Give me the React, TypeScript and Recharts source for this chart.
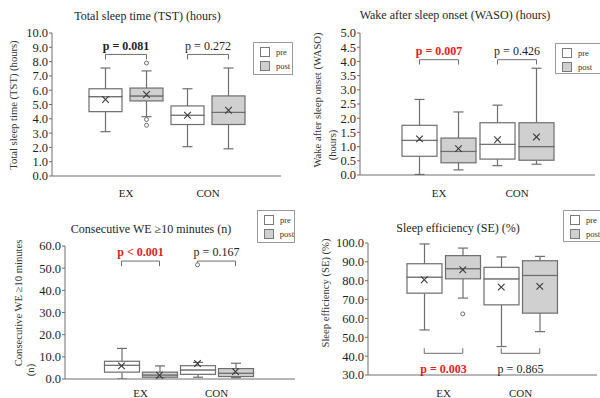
import React from "react";
import {
  Bar,
  ComposedChart,
  ReferenceDot,
  ReferenceLine,
  Scatter,
  XAxis,
  YAxis,
} from "recharts";

const SERIF = '"Liberation Serif", "Times New Roman", serif';
const STROKE = "#6e6e6e";
const POST_FILL = "#d0d0d0";
const RED = "#e3211c";
const INK = "#1e1e1e";

const GROUPS = ["EX", "CON"];
const PHASES = ["pre", "post"];
const LEGEND_ITEMS = ["pre", "post"];

// box order: EX pre, EX post, CON pre, CON post
const TST_MIN = [3.1, 4.15, 2.05, 1.9];
const TST_Q1 = [4.5, 5.25, 3.6, 3.6];
const TST_MEDIAN = [5.55, 5.6, 4.25, 4.45];
const TST_Q3 = [6.1, 6.15, 4.9, 5.6];
const TST_MAX = [7.55, 7.35, 6.1, 7.55];
const TST_MEAN = [5.35, 5.7, 4.25, 4.6];
const TST_OUTLIERS = [[], [7.9, 3.95, 3.55], [], []];
const TST_TICKS = [0, 1, 2, 3, 4, 5, 6, 7, 8, 9, 10];
const TST_BRACKET = [8.5, 8.15];
const TST_P_Y = 9.1;
const TST_P = ["p = 0.081", "p = 0.272"];
const TST_P_COLOR = [INK, INK];
const TST_P_BOLD = [true, false];

const WASO_MIN = [0.02, 0.18, 0.33, 0.38];
const WASO_Q1 = [0.66, 0.43, 0.56, 0.52];
const WASO_MEDIAN = [1.22, 0.83, 1.08, 1.0];
const WASO_Q3 = [1.75, 1.3, 1.84, 1.84];
const WASO_MAX = [2.66, 2.22, 2.46, 3.76];
const WASO_MEAN = [1.27, 0.93, 1.24, 1.34];
const WASO_OUTLIERS = [[], [], [], []];
const WASO_TICKS = [0, 0.5, 1, 1.5, 2, 2.5, 3, 3.5, 4, 4.5, 5];
const WASO_BRACKET = [4.06, 3.89];
const WASO_P_Y = 4.39;
const WASO_P = ["p = 0.007", "p = 0.426"];
const WASO_P_COLOR = [RED, INK];
const WASO_P_BOLD = [true, false];

const WE_MIN = [0, 0.6, 0.8, 0.6];
const WE_Q1 = [3.1, 0.8, 2.1, 1.1];
const WE_MEDIAN = [6.2, 1.8, 4.1, 2.6];
const WE_Q3 = [8.0, 3.1, 6.0, 4.7];
const WE_MAX = [13.8, 5.9, 7.5, 7.1];
const WE_MEAN = [5.9, 1.7, 7.0, 3.3];
const WE_OUTLIERS = [[], [], [51.5], []];
const WE_TICKS = [0, 10, 20, 30, 40, 50, 60];
const WE_BRACKET = [53.2, 50.9];
const WE_P_Y = 57.2;
const WE_P = ["p < 0.001", "p = 0.167"];
const WE_P_COLOR = [RED, INK];
const WE_P_BOLD = [true, false];

const SE_MIN = [53.9, 70.8, 45.1, 53.0];
const SE_Q1 = [73.4, 81.0, 67.2, 62.8];
const SE_MEDIAN = [81.9, 86.4, 81.0, 82.8];
const SE_Q3 = [89.0, 93.3, 87.1, 90.6];
const SE_MAX = [99.5, 97.3, 92.6, 92.9];
const SE_MEAN = [80.5, 85.8, 76.6, 77.0];
const SE_OUTLIERS = [[], [62.4], [], []];
const SE_TICKS = [30, 40, 50, 60, 70, 80, 90, 100];
const SE_BRACKET = [41.5, 44.2];
const SE_P_Y = 33.5;
const SE_P = ["p = 0.003", "p = 0.865"];
const SE_P_COLOR = [RED, INK];
const SE_P_BOLD = [true, false];

const BOX_KEYS = GROUPS.flatMap((g) => PHASES.map((p) => `${g} ${p}`));

function buildRows(min, q1, med, q3, max, mean, outliers) {
  return BOX_KEYS.map((k, i) => ({
    k,
    g: GROUPS[Math.floor(i / 2)],
    phase: PHASES[i % 2],
    base: min[i],
    lw: q1[i] - min[i],
    lb: med[i] - q1[i],
    ub: q3[i] - med[i],
    uw: max[i] - q3[i],
    mean: mean[i],
    o0: outliers[i][0],
    o1: outliers[i][1],
    o2: outliers[i][2],
  }));
}

const norm = (y: number, h: number) => [Math.min(y, y + h), Math.abs(h)];

const EmptyShape = () => <g />;

function BoxShape(props: any) {
  const { x, width, payload } = props;
  const [top, h] = norm(props.y, props.height);
  return (
    <rect
      x={x}
      y={top}
      width={width}
      height={h}
      fill={payload.phase === "post" ? POST_FILL : "#fff"}
      stroke={STROKE}
      strokeWidth={1.2}
    />
  );
}

function LowWhisker(props: any) {
  const [top, h] = norm(props.y, props.height);
  const cx = props.x + props.width / 2;
  return (
    <g stroke={STROKE} strokeWidth={1.2}>
      <line x1={cx} x2={cx} y1={top} y2={top + h} />
      <line x1={cx - 5} x2={cx + 5} y1={top + h} y2={top + h} />
    </g>
  );
}

function HighWhisker(props: any) {
  const [top, h] = norm(props.y, props.height);
  const cx = props.x + props.width / 2;
  return (
    <g stroke={STROKE} strokeWidth={1.2}>
      <line x1={cx} x2={cx} y1={top} y2={top + h} />
      <line x1={cx - 5} x2={cx + 5} y1={top} y2={top} />
    </g>
  );
}

function MeanMark(props: any) {
  const { cx, cy } = props;
  if (cx == null || cy == null || isNaN(cy)) return <g />;
  const s = 3.3;
  return (
    <g stroke="#3a3a3a" strokeWidth={1.1}>
      <line x1={cx - s} y1={cy - s} x2={cx + s} y2={cy + s} />
      <line x1={cx - s} y1={cy + s} x2={cx + s} y2={cy - s} />
    </g>
  );
}

function OutlierMark(props: any) {
  const { cx, cy } = props;
  if (cx == null || cy == null || isNaN(cy)) return <g />;
  return <circle cx={cx} cy={cy} r={2} fill="#fff" stroke={STROKE} strokeWidth={1} />;
}

function LegendBox({ left, top, width, height }) {
  return (
    <div
      style={{
        position: "absolute",
        left,
        top,
        width,
        height,
        boxSizing: "border-box",
        border: "1px solid #9a9a9a",
        background: "#fff",
        paddingTop: 4,
        paddingLeft: 6,
      }}
    >
      {LEGEND_ITEMS.map((item, i) => (
        <div
          key={item}
          style={{ display: "flex", alignItems: "center", height: 10, marginBottom: 4 }}
        >
          <div
            style={{
              width: 10,
              height: 10,
              boxSizing: "border-box",
              border: "1px solid #7a7a7a",
              background: i === 0 ? "#fff" : POST_FILL,
            }}
          />
          <span style={{ marginLeft: 6, fontSize: 8.5, color: "#333", fontFamily: SERIF }}>
            {item}
          </span>
        </div>
      ))}
    </div>
  );
}

function BoxPanel(p: any) {
  const rows = buildRows(p.min, p.q1, p.med, p.q3, p.max, p.mean, p.outliers);
  const yLabel = () => (
    <g>
      {p.yLines.map((l) => (
        <text
          key={l.text}
          transform={`translate(${l.x},${l.y}) rotate(-90)`}
          textAnchor="middle"
          dominantBaseline="central"
          fontSize={10.6}
          fontFamily={SERIF}
          fill="#333"
        >
          {l.text}
        </text>
      ))}
    </g>
  );
  return (
    <div style={{ position: "absolute", left: p.left, top: p.top, width: p.width, height: p.height }}>
      <ComposedChart width={p.width} height={p.height} margin={p.margin} data={rows}>
        <XAxis dataKey="k" hide height={0} padding={p.pad} allowDuplicatedCategory={false} />
        <XAxis
          xAxisId="g"
          dataKey="g"
          allowDuplicatedCategory={false}
          padding={p.pad}
          height={p.xHeight}
          tickLine={false}
          tickMargin={p.tickMargin}
          axisLine={{ stroke: STROKE }}
          tick={{ fontSize: 11, fill: INK, fontFamily: SERIF }}
          interval={0}
        />
        <YAxis
          type="number"
          width={p.yWidth}
          domain={p.domain}
          allowDataOverflow
          ticks={p.ticks}
          interval={0}
          tickSize={3}
          tickMargin={1}
          tickFormatter={(v: number) => v.toFixed(1)}
          axisLine={{ stroke: STROKE }}
          tickLine={{ stroke: STROKE }}
          tick={{ fontSize: 12.5, fill: INK, fontFamily: SERIF }}
          label={{ content: yLabel }}
        />
        <Bar dataKey="base" stackId="box" barSize={p.barSize} shape={EmptyShape} isAnimationActive={false} />
        <Bar dataKey="lw" stackId="box" barSize={p.barSize} shape={LowWhisker} isAnimationActive={false} />
        <Bar dataKey="lb" stackId="box" barSize={p.barSize} shape={BoxShape} isAnimationActive={false} />
        <Bar dataKey="ub" stackId="box" barSize={p.barSize} shape={BoxShape} isAnimationActive={false} />
        <Bar dataKey="uw" stackId="box" barSize={p.barSize} shape={HighWhisker} isAnimationActive={false} />
        <Scatter dataKey="mean" shape={MeanMark} isAnimationActive={false} />
        <Scatter dataKey="o0" shape={OutlierMark} isAnimationActive={false} />
        <Scatter dataKey="o1" shape={OutlierMark} isAnimationActive={false} />
        <Scatter dataKey="o2" shape={OutlierMark} isAnimationActive={false} />
        {GROUPS.map((g) => {
          const a = `${g} pre`;
          const b = `${g} post`;
          const [yl, ye] = p.bracket;
          return [
            <ReferenceLine key={g + "l"} segment={[{ x: a, y: ye }, { x: a, y: yl }]} stroke={STROKE} />,
            <ReferenceLine key={g + "m"} segment={[{ x: a, y: yl }, { x: b, y: yl }]} stroke={STROKE} />,
            <ReferenceLine key={g + "r"} segment={[{ x: b, y: yl }, { x: b, y: ye }]} stroke={STROKE} />,
          ];
        })}
        {GROUPS.map((g, i) => (
          <ReferenceDot
            key={g + "p"}
            xAxisId="g"
            x={g}
            y={p.pY}
            r={0}
            fill="none"
            stroke="none"
            label={{
              value: p.pText[i],
              position: "center",
              fill: p.pColor[i],
              fontWeight: p.pBold[i] ? "bold" : "normal",
              fontSize: 12,
              fontFamily: SERIF,
            }}
          />
        ))}
      </ComposedChart>
      <div
        style={{
          position: "absolute",
          left: p.titleX - 150,
          top: p.titleY - 8,
          width: 300,
          textAlign: "center",
          fontSize: 12,
          lineHeight: "16px",
          color: INK,
          fontFamily: SERIF,
          whiteSpace: "nowrap",
        }}
      >
        {p.title}
      </div>
      <LegendBox {...p.legend} />
    </div>
  );
}

export default function App() {
  return (
    <div
      style={{
        position: "absolute",
        left: 0,
        top: 0,
        width: 600,
        height: 398,
        background: "#fff",
        overflow: "hidden",
        fontFamily: SERIF,
      }}
    >
      <BoxPanel
        left={0}
        top={0}
        width={300}
        height={200}
        margin={{ top: 33, right: 19, bottom: 0, left: 0 }}
        yWidth={52}
        xHeight={24}
        pad={{ left: 33, right: 32 }}
        barSize={33}
        tickMargin={7}
        title="Total sleep time (TST) (hours)"
        titleX={147.5}
        titleY={16}
        yLines={[{ text: "Total sleep time (TST) (hours)", x: 13, y: 105 }]}
        legend={{ left: 253, top: 42, width: 40, height: 33 }}
        min={TST_MIN}
        q1={TST_Q1}
        med={TST_MEDIAN}
        q3={TST_Q3}
        max={TST_MAX}
        mean={TST_MEAN}
        outliers={TST_OUTLIERS}
        domain={[0, 10]}
        ticks={TST_TICKS}
        bracket={TST_BRACKET}
        pY={TST_P_Y}
        pText={TST_P}
        pColor={TST_P_COLOR}
        pBold={TST_P_BOLD}
      />
      <BoxPanel
        left={300}
        top={0}
        width={300}
        height={200}
        margin={{ top: 33, right: 5, bottom: 0, left: 0 }}
        yWidth={60}
        xHeight={25}
        pad={{ left: 40, right: 39 }}
        barSize={35}
        tickMargin={8}
        title="Wake after sleep onset (WASO) (hours)"
        titleX={155}
        titleY={15}
        yLines={[
          { text: "Wake after sleep onset (WASO)", x: 17, y: 100 },
          { text: "(hours)", x: 32, y: 145 },
        ]}
        legend={{ left: 255, top: 43, width: 48, height: 31 }}
        min={WASO_MIN}
        q1={WASO_Q1}
        med={WASO_MEDIAN}
        q3={WASO_Q3}
        max={WASO_MAX}
        mean={WASO_MEAN}
        outliers={WASO_OUTLIERS}
        domain={[0, 5]}
        ticks={WASO_TICKS}
        bracket={WASO_BRACKET}
        pY={WASO_P_Y}
        pText={WASO_P}
        pColor={WASO_P_COLOR}
        pBold={WASO_P_BOLD}
      />
      <BoxPanel
        left={0}
        top={200}
        width={300}
        height={198}
        margin={{ top: 46, right: 5, bottom: 0, left: 0 }}
        yWidth={65}
        xHeight={19}
        pad={{ left: 37.5, right: 40.5 }}
        barSize={35}
        tickMargin={4}
        title="Consecutive WE ≥10 minutes (n)"
        titleX={151}
        titleY={29}
        yLines={[
          { text: "Consecutive WE ≥10 minutes", x: 18, y: 103 },
          { text: "(n)", x: 30, y: 170 },
        ]}
        legend={{ left: 257, top: 10, width: 38, height: 33 }}
        min={WE_MIN}
        q1={WE_Q1}
        med={WE_MEDIAN}
        q3={WE_Q3}
        max={WE_MAX}
        mean={WE_MEAN}
        outliers={WE_OUTLIERS}
        domain={[0, 60]}
        ticks={WE_TICKS}
        bracket={WE_BRACKET}
        pY={WE_P_Y}
        pText={WE_P}
        pColor={WE_P_COLOR}
        pBold={WE_P_BOLD}
      />
      <BoxPanel
        left={300}
        top={200}
        width={300}
        height={198}
        margin={{ top: 43, right: 3, bottom: 0, left: 0 }}
        yWidth={68}
        xHeight={23}
        pad={{ left: 37, right: 38 }}
        barSize={35}
        tickMargin={8}
        title="Sleep efficiency (SE) (%)"
        titleX={158}
        titleY={28}
        yLines={[{ text: "Sleep efficiency (SE) (%)", x: 25, y: 93 }]}
        legend={{ left: 263, top: 10, width: 40, height: 32 }}
        min={SE_MIN}
        q1={SE_Q1}
        med={SE_MEDIAN}
        q3={SE_Q3}
        max={SE_MAX}
        mean={SE_MEAN}
        outliers={SE_OUTLIERS}
        domain={[30, 100]}
        ticks={SE_TICKS}
        bracket={SE_BRACKET}
        pY={SE_P_Y}
        pText={SE_P}
        pColor={SE_P_COLOR}
        pBold={SE_P_BOLD}
      />
    </div>
  );
}
